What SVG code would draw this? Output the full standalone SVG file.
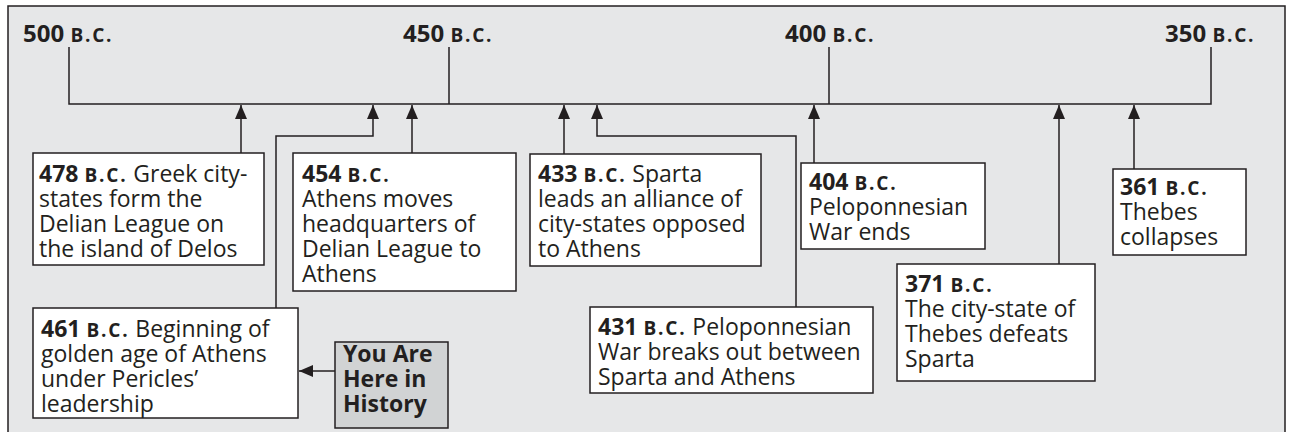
<svg xmlns="http://www.w3.org/2000/svg" width="1290" height="432" viewBox="0 0 1290 432">
<style>
.t { font-family: "Open Sans", "Liberation Sans", sans-serif; font-size: 23px; fill: #231f20; }
.b { font-weight: 700; }
.h { font-size: 24px; }
.sc { font-size: 19px; letter-spacing: 1.8px; }
.box { fill: #ffffff; stroke: #231f20; stroke-width: 1.5; }
.you { fill: #d1d3d4; stroke: #231f20; stroke-width: 1.5; }
.ln { fill: none; stroke: #231f20; stroke-width: 1.5; }
</style>
<defs>
<marker id="ah" markerUnits="userSpaceOnUse" markerWidth="15" markerHeight="12" refX="14" refY="6" orient="auto">
<path d="M0,0 L14,6 L0,12 z" fill="#231f20"/>
</marker>
</defs>
<rect x="8" y="6" width="1277" height="440" fill="#e6e7e8" stroke="#231f20" stroke-width="1.5"/>

<g id="timeline">
<path class="ln" d="M69,47 V104 H1211 V47 M449,47 V104 M829,47 V104"/>
<text class="t b h" x="23" y="42">500 <tspan class="sc">B.C.</tspan></text>
<text class="t b h" x="403" y="42">450 <tspan class="sc">B.C.</tspan></text>
<text class="t b h" x="785" y="42">400 <tspan class="sc">B.C.</tspan></text>
<text class="t b h" x="1165" y="42">350 <tspan class="sc">B.C.</tspan></text>
</g>

<g id="connectors">
<path class="ln" d="M241,153 V105" marker-end="url(#ah)"/>
<path class="ln" d="M276,308 V136 H373 V105" marker-end="url(#ah)"/>
<path class="ln" d="M412,153 V105" marker-end="url(#ah)"/>
<path class="ln" d="M564,154 V105" marker-end="url(#ah)"/>
<path class="ln" d="M796,307 V136 H597 V105" marker-end="url(#ah)"/>
<path class="ln" d="M814,163 V105" marker-end="url(#ah)"/>
<path class="ln" d="M1059,264 V105" marker-end="url(#ah)"/>
<path class="ln" d="M1134,169 V105" marker-end="url(#ah)"/>
<path class="ln" d="M335,371 H299" marker-end="url(#ah)"/>
</g>

<g id="e478">
<rect class="box" x="33" y="153" width="231" height="112"/>
<text class="t" x="39" y="182"><tspan class="b">478 <tspan class="sc">B.C.</tspan></tspan> Greek city-</text>
<text class="t" x="39" y="207">states form the</text>
<text class="t" x="39" y="232">Delian League on</text>
<text class="t" x="39" y="257">the island of Delos</text>
</g>

<g id="e454">
<rect class="box" x="293" y="153" width="223" height="138"/>
<text class="t" x="302" y="182"><tspan class="b">454 <tspan class="sc">B.C.</tspan></tspan></text>
<text class="t" x="302" y="207">Athens moves</text>
<text class="t" x="302" y="232">headquarters of</text>
<text class="t" x="302" y="257">Delian League to</text>
<text class="t" x="302" y="282">Athens</text>
</g>

<g id="e433">
<rect class="box" x="530" y="154" width="231" height="112"/>
<text class="t" x="538" y="182"><tspan class="b">433 <tspan class="sc">B.C.</tspan></tspan> Sparta</text>
<text class="t" x="538" y="207">leads an alliance of</text>
<text class="t" x="538" y="232">city-states opposed</text>
<text class="t" x="538" y="257">to Athens</text>
</g>

<g id="e404">
<rect class="box" x="801" y="163" width="184" height="86"/>
<text class="t" x="809" y="190"><tspan class="b">404 <tspan class="sc">B.C.</tspan></tspan></text>
<text class="t" x="809" y="215">Peloponnesian</text>
<text class="t" x="809" y="240">War ends</text>
</g>

<g id="e361">
<rect class="box" x="1113" y="169" width="133" height="86"/>
<text class="t" x="1120" y="195"><tspan class="b">361 <tspan class="sc">B.C.</tspan></tspan></text>
<text class="t" x="1120" y="220">Thebes</text>
<text class="t" x="1120" y="245">collapses</text>
</g>

<g id="e371">
<rect class="box" x="897" y="264" width="198" height="117"/>
<text class="t" x="905" y="292"><tspan class="b">371 <tspan class="sc">B.C.</tspan></tspan></text>
<text class="t" x="905" y="317">The city-state of</text>
<text class="t" x="905" y="342">Thebes defeats</text>
<text class="t" x="905" y="367">Sparta</text>
</g>

<g id="e431">
<rect class="box" x="590" y="307" width="283" height="86"/>
<text class="t" x="598" y="335"><tspan class="b">431 <tspan class="sc">B.C.</tspan></tspan> Peloponnesian</text>
<text class="t" x="598" y="360">War breaks out between</text>
<text class="t" x="598" y="385">Sparta and Athens</text>
</g>

<g id="e461">
<rect class="box" x="33" y="308" width="265" height="110"/>
<text class="t" x="41" y="337"><tspan class="b">461 <tspan class="sc">B.C.</tspan></tspan> Beginning of</text>
<text class="t" x="41" y="362">golden age of Athens</text>
<text class="t" x="41" y="387">under Pericles’</text>
<text class="t" x="41" y="412">leadership</text>
</g>

<g id="you-are-here">
<rect class="you" x="335" y="342" width="113" height="86"/>
<text class="t b" x="343" y="362">You Are</text>
<text class="t b" x="343" y="387">Here in</text>
<text class="t b" x="343" y="412">History</text>
</g>
</svg>
